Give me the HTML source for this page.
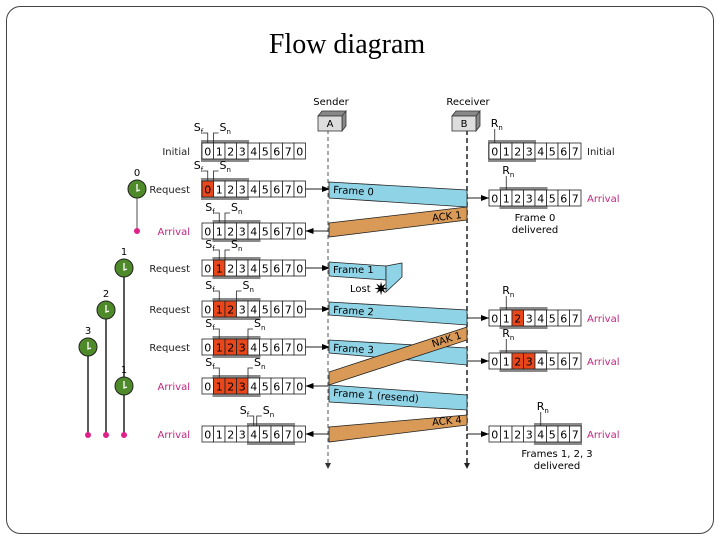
<!DOCTYPE html>
<html><head><meta charset="utf-8"><style>
body{margin:0;width:720px;height:540px;background:#fff;overflow:hidden}
svg{display:block}
text{font-family:"DejaVu Sans","Liberation Sans",sans-serif}
</style></head><body>
<svg id="s" width="720" height="540" viewBox="0 0 720 540" xmlns="http://www.w3.org/2000/svg">
<rect x="6.5" y="6.5" width="707" height="527" rx="14" fill="none" stroke="#444" stroke-width="1"/>
<text x="347" y="53" font-size="28" text-anchor="middle" style="font-family:'Liberation Serif',serif">Flow diagram</text>
<line x1="328" y1="130" x2="328" y2="465" stroke="#555" stroke-dasharray="4,3"/>
<path d="M325,463 L331,463 L328,469Z" fill="#333"/>
<line x1="467" y1="130" x2="467" y2="465" stroke="#222" stroke-width="1.5" stroke-dasharray="5,3"/>
<path d="M464,463 L470,463 L467,469Z" fill="#222"/>
<text x="331" y="105" font-size="10" text-anchor="middle">Sender</text>
<text x="468" y="105" font-size="10" text-anchor="middle">Receiver</text>
<path d="M318,116 L322,111 L346,111 L342,116Z M342,116 L346,111 L346,126 L342,131Z" fill="#888" stroke="#333" stroke-width="0.8"/>
<rect x="318" y="116" width="24" height="15" fill="#ddd" stroke="#333" stroke-width="0.8"/>
<text x="330" y="127" font-size="10" text-anchor="middle">A</text>
<path d="M452,116 L456,111 L480,111 L476,116Z M476,116 L480,111 L480,126 L476,131Z" fill="#888" stroke="#333" stroke-width="0.8"/>
<rect x="452" y="116" width="24" height="15" fill="#ddd" stroke="#333" stroke-width="0.8"/>
<text x="464" y="127" font-size="10" text-anchor="middle">B</text>
<g id="g"></g>
</svg>
<script>
const g=document.getElementById('g');let h='';
const W=11.5;
function win(x0,y,n,labels,red,gs,ge){
 h+=`<rect x="${x0+gs*W-1}" y="${y-11}" width="${(ge-gs)*W+2}" height="22" fill="#8a8a8a"/>`;
 for(let i=0;i<n;i++){
  const x=x0+i*W;
  h+=`<rect x="${x}" y="${y-8}" width="${W}" height="16" fill="${red.includes(i)?'#e8471c':'#fff'}" stroke="#222" stroke-width="0.8"/>`;
  h+=`<text x="${x+W/2}" y="${y+4.5}" font-size="11" text-anchor="middle">${labels[i]}</text>`;
 }
}
const S=['0','1','2','3','4','5','6','7','0'],R=['0','1','2','3','4','5','6','7'];
function ptr(x,y,lab,sub,dir){
 h+=`<path d="M${x},${y-8} L${x},${y-18} L${x+dir*5},${y-18}" fill="none" stroke="#222" stroke-width="0.8"/>`;
 h+=`<text x="${dir<0?x-14:x+6}" y="${y-20}" font-size="11">${lab}<tspan font-size="7" dy="3">${sub}</tspan></text>`;
}
function lbl(x,y,t,c){h+=`<text x="${x}" y="${y+4}" font-size="10" text-anchor="end" fill="${c}">${t}</text>`;}
const X=202;
const rows=[[151,[],0,4,0,1,'Initial','#222'],[189,[0],0,4,0,1,'Request','#222'],[231,[],1,5,1,2,'Arrival','#c0267e'],
[268,[1],1,5,1,2,'Request','#222'],[309,[1,2],1,5,1,3,'Request','#222'],[347,[1,2,3],1,5,1,4,'Request','#222'],
[386,[1,2,3],1,5,1,4,'Arrival','#c0267e'],[434,[],4,8,4,4,'Arrival','#c0267e']];
rows.forEach((r,k)=>{win(X,r[0],9,S,r[1],r[2],r[3]);lbl(X-12,r[0],r[6],r[7]);
 const xf=X+r[4]*W+W/2, xn=X+r[5]*W+(r[4]==r[5]?W/2+3:0);
 ptr(xf,r[0],'S','f',-1);ptr(xn,r[0],'S','n',1);
 if(k==0)return;
 h+=`<line x1="${X+9*W}" y1="${r[0]}" x2="328" y2="${r[0]}" stroke="#222"/>`;
 if(r[6]=='Request')h+=`<path d="M322,${r[0]-3} L330,${r[0]} L322,${r[0]+3}Z"/>`;
 else h+=`<path d="M${X+9*W+8},${r[0]-3} L${X+9*W},${r[0]} L${X+9*W+8},${r[0]+3}Z"/>`;
});
const RX=489;
const rr=[[151,[],0,4,0,'Initial','#222'],[198,[],1,5,1,'Arrival','#c0267e'],[318,[2],1,5,1,'Arrival','#c0267e'],[361,[2,3],1,5,1,'Arrival','#c0267e'],[434,[],4,8,4,'Arrival','#c0267e']];
rr.forEach(r=>{win(RX,r[0],8,R,r[1],r[2],r[3]);
 h+=`<text x="${RX+8*W+6}" y="${r[0]+4}" font-size="10" fill="${r[6]}">${r[5]}</text>`;
 const x=RX+r[4]*W+W/2;
 h+=`<line x1="${x}" y1="${r[0]-8}" x2="${x}" y2="${r[0]-22}" stroke="#222" stroke-width="0.8"/>`;
 h+=`<text x="${x-4}" y="${r[0]-24}" font-size="11">R<tspan font-size="7" dy="3">n</tspan></text>`;
 if(r[0]>151){h+=`<line x1="467" y1="${r[0]}" x2="${RX}" y2="${r[0]}" stroke="#222"/><path d="M${RX-8},${r[0]-3} L${RX},${r[0]} L${RX-8},${r[0]+3}Z"/>`;}
});
h+=`<text x="535" y="221" font-size="10" text-anchor="middle">Frame 0</text><text x="535" y="233" font-size="10" text-anchor="middle">delivered</text>`;
h+=`<text x="557" y="457" font-size="10" text-anchor="middle">Frames 1, 2, 3</text><text x="557" y="469" font-size="10" text-anchor="middle">delivered</text>`;
function blue(a,b,c,d,t){h+=`<path d="M329,${a} L467,${c} L467,${d} L329,${b}Z" fill="#8fd3e6" stroke="#222" stroke-width="0.8"/><text x="333" y="${a+11}" font-size="10" transform="rotate(${Math.atan2(c-a,138)*57.3} 333 ${a+11})">${t}</text>`;}
function org(a,b,c,d,t){h+=`<path d="M467,${a} L329,${c} L329,${d} L467,${b}Z" fill="#d99a58" stroke="#222" stroke-width="0.8"/><text x="462" y="${b-2}" font-size="10" text-anchor="end" transform="rotate(${-Math.atan2(c-a,138)*57.3} 462 ${b-2})">${t}</text>`;}
blue(182,198,190,207,'Frame 0');
org(207,220,223,237,'ACK 1');
h+=`<path d="M329,262 L386,266 L386,280 L329,276Z" fill="#8fd3e6" stroke="#222" stroke-width="0.8"/><path d="M386,266 L402,263 L402,277 L386,292 L386,280Z" fill="#8fd3e6" stroke="#222" stroke-width="0.8"/><text x="333" y="273" font-size="10">Frame 1</text><text x="350" y="292" font-size="10">Lost</text><text x="381" y="295" font-size="18" text-anchor="middle">✷</text>`;
blue(302,315,310,325,'Frame 2');
blue(340,353,348,365,'Frame 3');
org(327,340,372,385,'NAK 1');
blue(385,402,395,410,'Frame 1 (resend)');
org(415,425,427,442,'ACK 4');
function clk(x,y,n){h+=`<circle cx="${x}" cy="${y}" r="9" fill="#4e8a2a" stroke="#222"/><path d="M${x},${y-5} L${x},${y+2} L${x+3},${y+1}" fill="none" stroke="#fff" stroke-width="1.3"/><text x="${x}" y="${y-13}" font-size="10" text-anchor="middle">${n}</text>`;}
h+=`<line x1="137" y1="189" x2="137" y2="231" stroke="#888" stroke-width="1.5"/><circle cx="137" cy="231" r="3" fill="#e0218a"/>`;
[[124,268],[106,310],[88,347]].forEach(p=>{h+=`<line x1="${p[0]}" y1="${p[1]}" x2="${p[0]}" y2="435" stroke="#222" stroke-width="1.5"/><circle cx="${p[0]}" cy="435" r="3" fill="#e0218a"/>`;});
clk(137,189,'0');clk(124,268,'1');clk(106,310,'2');clk(88,347,'3');clk(124,386,'1');
g.innerHTML=h;
</script>
</body></html>
